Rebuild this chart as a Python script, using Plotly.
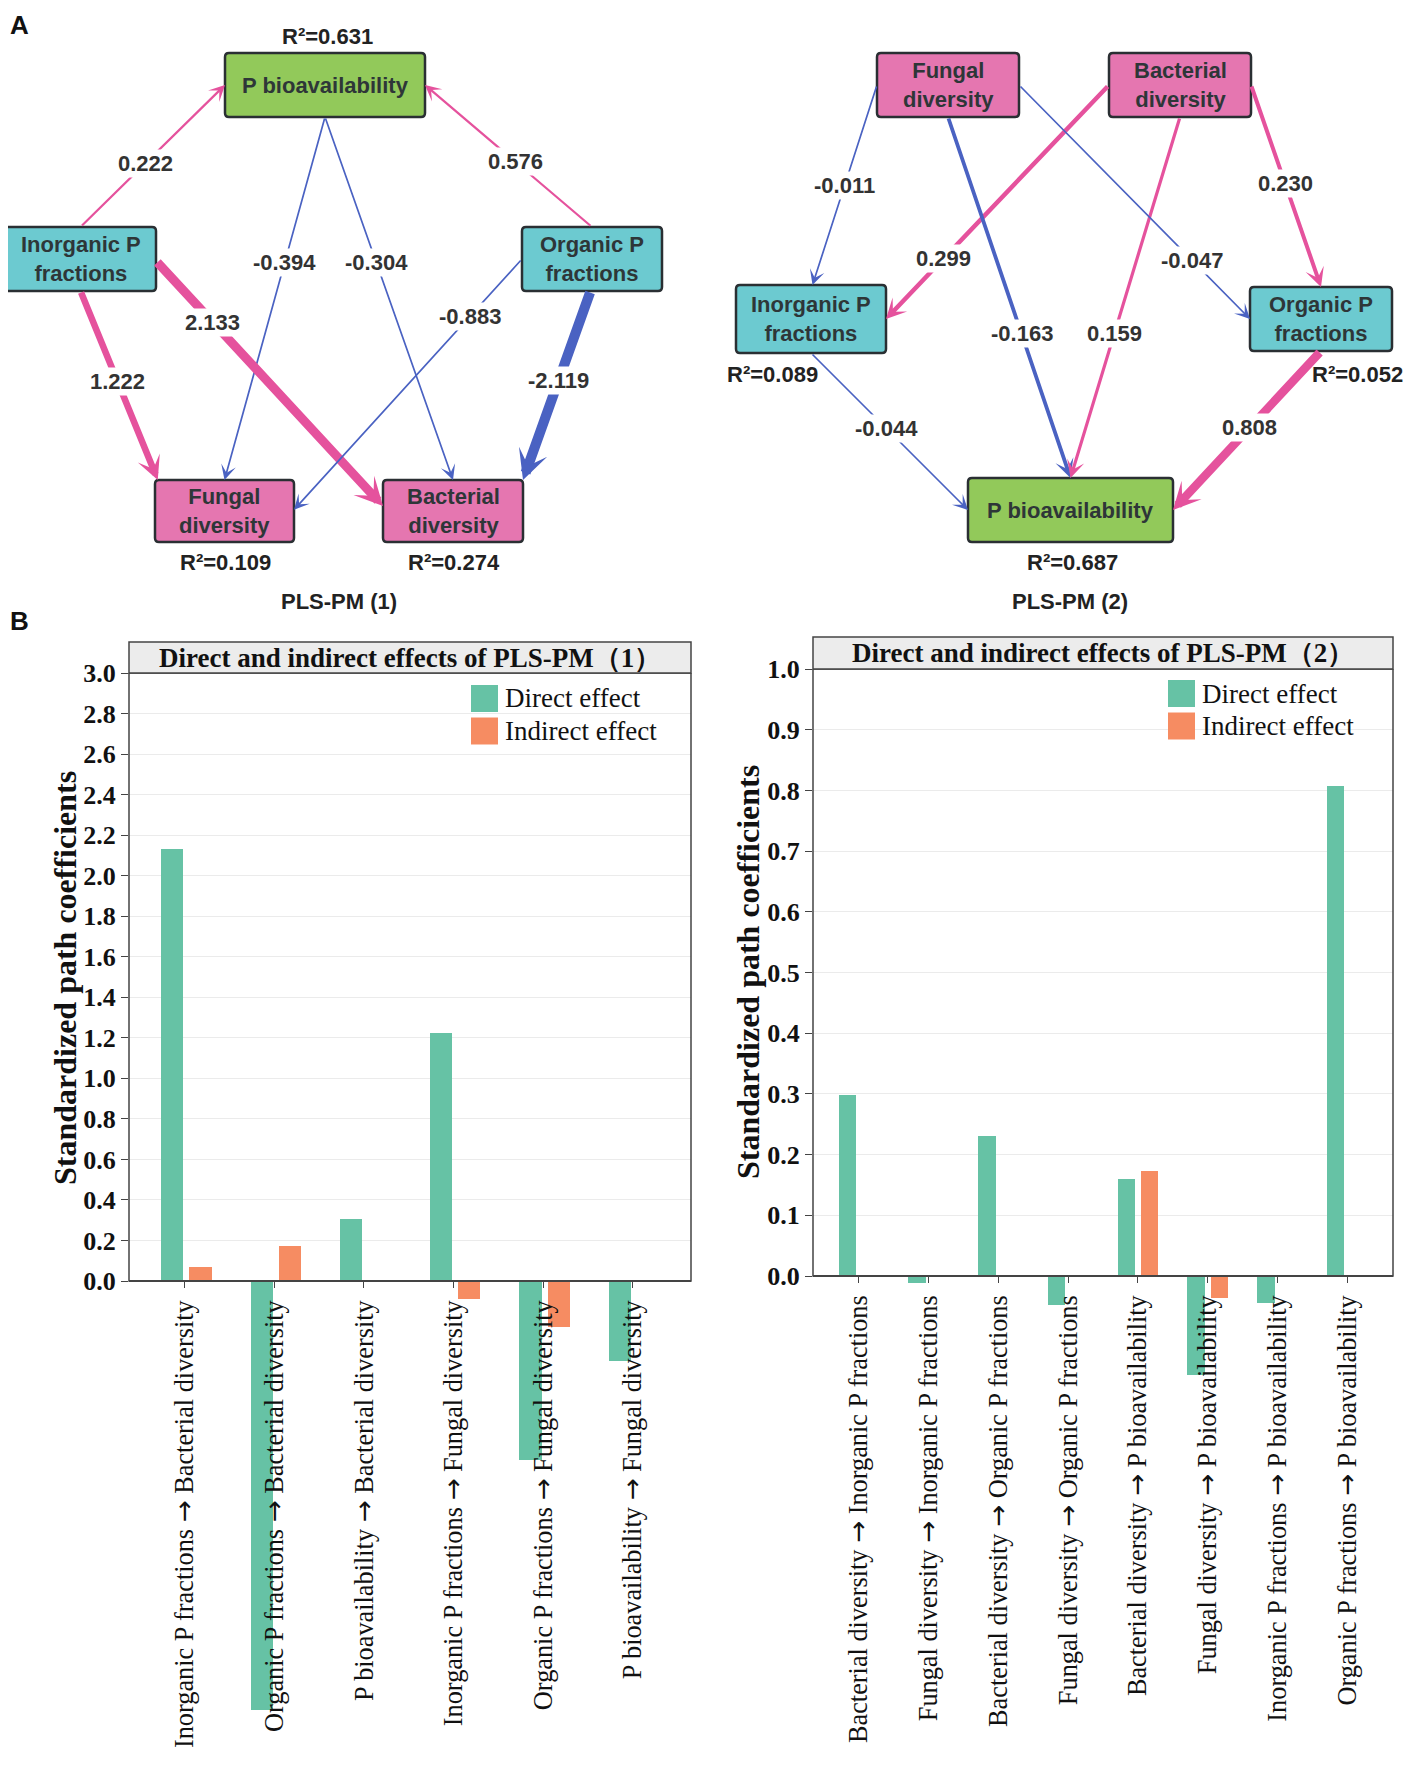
import plotly.graph_objects as go

# page is 1414x1765; the browser adds an 8px body margin, so the figure is 16px smaller
PAGE_W, PAGE_H, BODY = 1414, 1765, 8
W, H = PAGE_W - 2 * BODY, PAGE_H - 2 * BODY

# ---------------- data: bar charts ----------------
cats1 = ["Inorganic P fractions → Bacterial diversity",
         "Organic P fractions → Bacterial diversity",
         "P bioavailability → Bacterial diversity",
         "Inorganic P fractions → Fungal diversity",
         "Organic P fractions → Fungal diversity",
         "P bioavailability → Fungal diversity"]
direct1 = [2.133, -2.119, 0.304, 1.222, -0.883, -0.394]
indirect1 = [0.068, 0.175, 0.0, -0.087, -0.227, 0.0]

cats2 = ["Bacterial diversity → Inorganic P fractions",
         "Fungal diversity → Inorganic P fractions",
         "Bacterial diversity → Organic P fractions",
         "Fungal diversity → Organic P fractions",
         "Bacterial diversity → P bioavailability",
         "Fungal diversity → P bioavailability",
         "Inorganic P fractions → P bioavailability",
         "Organic P fractions → P bioavailability"]
direct2 = [0.299, -0.011, 0.230, -0.047, 0.159, -0.163, -0.044, 0.808]
indirect2 = [0.0, 0.0, 0.0, 0.0, 0.173, -0.037, 0.0, 0.0]

yticks1 = [0.0, 0.2, 0.4, 0.6, 0.8, 1.0, 1.2, 1.4, 1.6, 1.8, 2.0, 2.2, 2.4, 2.6, 2.8, 3.0]
yticks2 = [0.0, 0.1, 0.2, 0.3, 0.4, 0.5, 0.6, 0.7, 0.8, 0.9, 1.0]

title1 = "Direct and indirect effects of PLS-PM（1）"
title2 = "Direct and indirect effects of PLS-PM（2）"
ytitle = "Standardized path coefficients"
legend_names = ["Direct effect", "Indirect effect"]

# ---------------- data: path models ----------------
pm1_from = ["Inorganic", "Organic", "Pbio", "Pbio", "Inorganic", "Inorganic", "Organic", "Organic"]
pm1_to = ["Pbio", "Pbio", "Fungal", "Bacterial", "Bacterial", "Fungal", "Fungal", "Bacterial"]
pm1_coef = [0.222, 0.576, -0.394, -0.304, 2.133, 1.222, -0.883, -2.119]
pm1_r2 = {"Pbio": 0.631, "Fungal": 0.109, "Bacterial": 0.274}

pm2_from = ["Fungal", "Bacterial", "Fungal", "Bacterial", "Fungal", "Bacterial", "Inorganic", "Organic"]
pm2_to = ["Inorganic", "Inorganic", "Pbio", "Pbio", "Organic", "Organic", "Pbio", "Pbio"]
pm2_coef = [-0.011, 0.299, -0.163, 0.159, -0.047, 0.230, -0.044, 0.808]
pm2_r2 = {"Inorganic": 0.089, "Organic": 0.052, "Pbio": 0.687}

node_text = {"Pbio": "P bioavailability", "Inorganic": "Inorganic P<br>fractions",
             "Organic": "Organic P<br>fractions", "Fungal": "Fungal<br>diversity",
             "Bacterial": "Bacterial<br>diversity"}

# ---------------- layout / style (page-pixel geometry) ----------------
node_fill = {"Pbio": "#92C95A", "Inorganic": "#6CCAD0", "Organic": "#6CCAD0",
             "Fungal": "#E576B0", "Bacterial": "#E576B0"}
POS_COLOR, NEG_COLOR = "#E5529D", "#4A62C2"
TXT = "#333333"

pm1_boxes = {"Pbio": (225, 53, 425, 117), "Inorganic": (5, 227, 156, 291),
             "Organic": (522, 227, 662, 291), "Fungal": (155, 480, 294, 542),
             "Bacterial": (383, 480, 523, 542)}
pm1_r2pos = {"Pbio": (327, 36), "Fungal": (225, 562), "Bacterial": (454, 562)}
pm1_ports = [((0.5, 0), (0, 0.5)), ((0.5, 0), (1, 0.5)), ((0.5, 1), (0.5, 0)),
             ((0.5, 1), (0.5, 0)), ((1, 0.53), (0, 0.42)), ((0.5, 1), (0.02, 0)),
             ((0, 0.5), (1, 0.48)), ((0.49, 1), (1, 0))]
pm1_width = [2.2, 2.2, 1.7, 1.7, 9, 6.5, 1.7, 10]
pm1_lab_t = [0.45, 0.46, 0.40, 0.40, 0.25, 0.48, 0.23, 0.475]
pm1_title = (339, 601)

pm2_boxes = {"Fungal": (877, 53, 1019, 117), "Bacterial": (1109, 53, 1251, 117),
             "Inorganic": (736, 285, 886, 353), "Organic": (1250, 287, 1392, 351),
             "Pbio": (968, 478, 1173, 542)}
pm2_r2pos = {"Inorganic": (772, 374), "Organic": (1357, 374), "Pbio": (1072, 562)}
pm2_ports = [((0, 0.5), (0.51, 0)), ((0, 0.5), (1, 0.5)), ((0.5, 1), (0.5, 0)),
             ((0.5, 1), (0.5, 0)), ((1, 0.5), (0, 0.5)), ((1, 0.5), (0.5, 0)),
             ((0.5, 1), (0, 0.5)), ((0.5, 1), (1, 0.5))]
pm2_width = [1.7, 4.5, 3.8, 3.2, 1.7, 4.0, 1.7, 8.5]
pm2_lab_t = [0.5, 0.74, 0.6, 0.6, 0.75, 0.49, 0.48, 0.48]
pm2_title = (1070, 601)

GREEN, ORANGE = "#66C2A5", "#F68C62"
SERIF = "Liberation Serif"
SANS = "Liberation Sans"
ARROW_SPAN = '<span style="font-family:DejaVu Sans">→</span>'

# page-pixel -> paper helpers
def px(x):
    return (x - BODY) / W

def py(y):
    return 1 - (y - BODY) / H

fig = go.Figure()

# ---------------- bar charts ----------------
c1_left, c1_right, c1_top, c1_zero, c_bottom = 129, 691, 673, 1281, 1745
c2_left, c2_right, c2_top, c2_zero = 813, 1393, 669, 1276
c1_unit = (c1_zero - c1_top) / 3.0
c2_unit = (c2_zero - c2_top) / 1.0
y1_min = -(c_bottom - c1_zero) / c1_unit
y2_min = -(c_bottom - c2_zero) / c2_unit

fig.add_trace(go.Bar(x=cats1, y=direct1, marker_color=GREEN, width=0.25, offset=-0.267,
                     name=legend_names[0], showlegend=False, xaxis="x", yaxis="y"))
fig.add_trace(go.Bar(x=cats1, y=indirect1, marker_color=ORANGE, width=0.25, offset=0.05,
                     name=legend_names[1], showlegend=False, xaxis="x", yaxis="y"))
fig.add_trace(go.Bar(x=cats2, y=direct2, marker_color=GREEN, width=0.25, offset=-0.29,
                     name=legend_names[0], showlegend=False, xaxis="x2", yaxis="y2"))
fig.add_trace(go.Bar(x=cats2, y=indirect2, marker_color=ORANGE, width=0.245, offset=0.045,
                     name=legend_names[1], showlegend=False, xaxis="x2", yaxis="y2"))

xcommon = dict(type="category", showgrid=False, zeroline=False, showline=True,
               linecolor="#444444", linewidth=1.5, ticks="outside", ticklen=6,
               tickcolor="#444444", tickangle=-90, ticklabelstandoff=2, automargin=False,
               tickfont=dict(family=SERIF, size=26.3, color="#111111"), anchor="free")
ycommon = dict(showgrid=True, gridcolor="#EBEBEB", gridwidth=1, zeroline=False,
               showline=False, ticks="outside", ticklen=7, tickcolor="#444444",
               automargin=False, tickfont=dict(family=SERIF, size=26, color="#111111"))

fig.update_layout(
    template="none",
    xaxis=dict(xcommon, domain=[px(c1_left), px(c1_right)], range=[-0.625, 5.653],
               position=py(c1_zero), tickvals=cats1,
               ticktext=[c.replace("→", ARROW_SPAN) for c in cats1]),
    yaxis=dict(ycommon, domain=[py(c_bottom), py(c1_top)], range=[y1_min, 3.0],
               tickvals=yticks1, ticktext=["<b>%.1f</b>" % v for v in yticks1]),
    xaxis2=dict(xcommon, domain=[px(c2_left), px(c2_right)], range=[-0.658, 7.657],
                position=py(c2_zero), tickvals=cats2,
                ticktext=[c.replace("→", ARROW_SPAN) for c in cats2]),
    yaxis2=dict(ycommon, domain=[py(c_bottom), py(c2_top)], range=[y2_min, 1.0],
                tickvals=yticks2, ticktext=["<b>%.1f</b>" % v for v in yticks2],
                anchor="x2"),
    xaxis3=dict(domain=[0, 1], range=[BODY, BODY + W], visible=False, anchor="y3",
                automargin=False),
    yaxis3=dict(domain=[py(625), 1], range=[625, BODY], visible=False, anchor="x3",
                automargin=False),
)

shapes = []
annotations = []

def chart_frame(xname, yname, top_val, title_top_px, title_bot_px, left, right, title,
                ytitle_xy, legend_box):
    shapes.append(dict(type="rect", xref=f"{xname} domain", yref=yname, x0=0, x1=1,
                       y0=0, y1=top_val, line=dict(color="#444444", width=1.5),
                       layer="above"))
    shapes.append(dict(type="rect", xref="paper", yref="paper", x0=px(left), x1=px(right),
                       y0=py(title_bot_px), y1=py(title_top_px), fillcolor="#ECECEC",
                       line=dict(color="#444444", width=1.5), layer="above"))
    annotations.append(dict(text=f"<b>{title}</b>", xref="paper", yref="paper",
                            x=px((left + right) / 2), y=py((title_top_px + title_bot_px) / 2),
                            xanchor="center", yanchor="middle", showarrow=False,
                            font=dict(family=SERIF, size=27, color="#111111")))
    annotations.append(dict(text=f"<b>{ytitle}</b>", xref="paper", yref="paper",
                            x=px(ytitle_xy[0]), y=py(ytitle_xy[1]), textangle=-90,
                            xanchor="center", yanchor="middle", showarrow=False,
                            font=dict(family=SERIF, size=32, color="#111111")))
    lx, ly, sw, gap = legend_box
    for i, (nm, col) in enumerate(zip(legend_names, [GREEN, ORANGE])):
        y0 = ly + i * gap
        shapes.append(dict(type="rect", xref="paper", yref="paper", x0=px(lx), x1=px(lx + sw),
                           y0=py(y0 + sw), y1=py(y0), fillcolor=col, line=dict(width=0),
                           layer="above"))
        annotations.append(dict(text=nm, xref="paper", yref="paper", x=px(lx + sw + 5),
                                y=py(y0 + sw / 2), xanchor="left", yanchor="middle",
                                showarrow=False,
                                font=dict(family=SERIF, size=27, color="#111111")))

chart_frame("x", "y", 3.0, 642, c1_top, c1_left, c1_right, title1, (65, 978),
            (471, 685, 27, 32.5))
chart_frame("x2", "y2", 1.0, 637, c2_top, c2_left, c2_right, title2, (748, 972),
            (1168, 680, 27, 32.5))

# ---------------- path diagrams ----------------
def rrect(x0, y0, x1, y1, r=4):
    return (f"M{x0+r},{y0} L{x1-r},{y0} Q{x1},{y0} {x1},{y0+r} L{x1},{y1-r} "
            f"Q{x1},{y1} {x1-r},{y1} L{x0+r},{y1} Q{x0},{y1} {x0},{y1-r} "
            f"L{x0},{y0+r} Q{x0},{y0} {x0+r},{y0} Z")

def port(box, f):
    x0, y0, x1, y1 = box
    return x0 + (x1 - x0) * f[0], y0 + (y1 - y0) * f[1]

def draw_model(boxes, r2, r2pos, src, dst, coef, ports, widths, lab_t, title_xy, title):
    arrows, labels = [], []
    for s, d, c, (ps, pd), w, t in zip(src, dst, coef, ports, widths, lab_t):
        x0, y0 = port(boxes[s], ps)
        x1, y1 = port(boxes[d], pd)
        col = POS_COLOR if c >= 0 else NEG_COLOR
        head = max(15.0, 12 + 1.8 * w)
        arrows.append(dict(x=x1, y=y1, ax=x0, ay=y0, xref="x3", yref="y3", axref="x3",
                           ayref="y3", text="", showarrow=True, arrowhead=3,
                           arrowsize=head / (6.0 * w), arrowwidth=w, arrowcolor=col,
                           standoff=0, startstandoff=0))
        lx, ly = x0 + (x1 - x0) * t, y0 + (y1 - y0) * t
        labels.append(dict(x=lx, y=ly, xref="x3", yref="y3", text=f"<b>{c:.3f}</b>",
                           showarrow=False, bgcolor="white", borderpad=1,
                           font=dict(family=SANS, size=22, color=TXT)))
    annotations.extend(arrows)
    annotations.extend(labels)
    for n, b in boxes.items():
        shapes.append(dict(type="path", xref="x3", yref="y3", path=rrect(*b),
                           fillcolor=node_fill[n], line=dict(color="#2A2F33", width=2.5),
                           layer="above"))
        annotations.append(dict(x=(b[0] + b[2]) / 2, y=(b[1] + b[3]) / 2, xref="x3",
                                yref="y3", text=f"<b>{node_text[n]}</b>", showarrow=False,
                                xanchor="center", yanchor="middle",
                                font=dict(family=SANS, size=22, color="#2E3638")))
    for n, v in r2.items():
        x, y = r2pos[n]
        annotations.append(dict(x=x, y=y, xref="x3", yref="y3", text=f"<b>R²={v:.3f}</b>",
                                showarrow=False, xanchor="center", yanchor="middle",
                                font=dict(family=SANS, size=22, color="#222222")))
    annotations.append(dict(x=title_xy[0], y=title_xy[1], xref="x3", yref="y3",
                            text=f"<b>{title}</b>", showarrow=False,
                            font=dict(family=SANS, size=22, color="#222222")))

draw_model(pm1_boxes, pm1_r2, pm1_r2pos, pm1_from, pm1_to, pm1_coef, pm1_ports,
           pm1_width, pm1_lab_t, pm1_title, "PLS-PM (1)")
draw_model(pm2_boxes, pm2_r2, pm2_r2pos, pm2_from, pm2_to, pm2_coef, pm2_ports,
           pm2_width, pm2_lab_t, pm2_title, "PLS-PM (2)")

# panel letters
annotations.append(dict(text="<b>A</b>", xref="paper", yref="paper", x=0, y=1,
                        xanchor="left", yanchor="top", showarrow=False,
                        font=dict(family=SANS, size=26, color="#111111")))
annotations.append(dict(text="<b>B</b>", xref="paper", yref="paper", x=0, y=py(604),
                        xanchor="left", yanchor="top", showarrow=False,
                        font=dict(family=SANS, size=26, color="#111111")))

fig.update_layout(width=W, height=H, margin=dict(l=0, r=0, t=0, b=0, pad=0),
                  paper_bgcolor="white", plot_bgcolor="rgba(0,0,0,0)",
                  showlegend=False, shapes=shapes, annotations=annotations,
                  bargap=0)

fig.write_html("out.html")
